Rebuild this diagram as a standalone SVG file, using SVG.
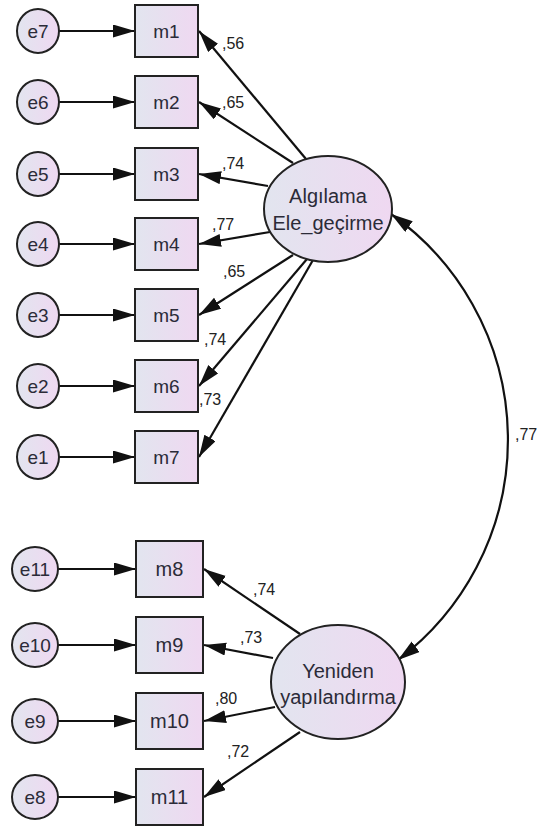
<svg xmlns="http://www.w3.org/2000/svg" width="539" height="827" viewBox="0 0 539 827">
<style>
.nd{fill:url(#g);stroke:#222;stroke-width:2}
.t{font-family:"Liberation Sans",Arial,sans-serif;font-size:19px;fill:#2b2b38;text-anchor:middle}
.tl{font-family:"Liberation Sans",Arial,sans-serif;font-size:20px;fill:#2b2b38;text-anchor:middle}
.lb{font-family:"Liberation Sans",Arial,sans-serif;font-size:16px;fill:#222}
.c{stroke:#111;stroke-width:2.2;fill:none;marker-end:url(#ah)}
</style>
<defs>
<linearGradient id="g" x1="0" y1="0" x2="1" y2="0">
<stop offset="0" stop-color="#e2e5ef"/>
<stop offset="1" stop-color="#efd8f1"/>
</linearGradient>
<marker id="ah" markerUnits="userSpaceOnUse" markerWidth="24" markerHeight="14" refX="22" refY="6.5" orient="auto-start-reverse">
<path d="M0,0 L22,6.5 L0,13 z" fill="#111"/>
</marker>
</defs>
<rect width="539" height="827" fill="#fff"/>
<g id="connectors">
<line class="c" x1="59" y1="31" x2="135" y2="31"/>
<line class="c" x1="59" y1="102" x2="135" y2="102"/>
<line class="c" x1="59" y1="174" x2="135" y2="174"/>
<line class="c" x1="59" y1="244" x2="135" y2="244"/>
<line class="c" x1="59" y1="315" x2="135" y2="315"/>
<line class="c" x1="59" y1="386" x2="135" y2="386"/>
<line class="c" x1="59" y1="457" x2="135" y2="457"/>
<line class="c" x1="58" y1="569" x2="136" y2="569"/>
<line class="c" x1="58" y1="645" x2="136" y2="645"/>
<line class="c" x1="58" y1="721" x2="136" y2="721"/>
<line class="c" x1="58" y1="797" x2="136" y2="797"/>
<line class="c" x1="306" y1="159" x2="199" y2="31"/>
<line class="c" x1="293" y1="163" x2="199" y2="102"/>
<line class="c" x1="268" y1="186" x2="199" y2="174"/>
<line class="c" x1="270" y1="232" x2="199" y2="244"/>
<line class="c" x1="293" y1="255" x2="199" y2="315"/>
<line class="c" x1="307" y1="259" x2="199" y2="386"/>
<line class="c" x1="313" y1="260" x2="199" y2="457"/>
<line class="c" x1="300" y1="634" x2="204" y2="569"/>
<line class="c" x1="273" y1="658" x2="204" y2="645"/>
<line class="c" x1="275" y1="707" x2="204" y2="721"/>
<line class="c" x1="300" y1="732" x2="204" y2="797"/>
<path class="c" d="M391,214 A276,276 0 0 1 398,660" style="marker-start:url(#ah)"/>
<text class="lb" x="222" y="49">,56</text>
<text class="lb" x="222" y="108">,65</text>
<text class="lb" x="222" y="169">,74</text>
<text class="lb" x="212" y="230">,77</text>
<text class="lb" x="223" y="277">,65</text>
<text class="lb" x="204" y="345">,74</text>
<text class="lb" x="199" y="405">,73</text>
<text class="lb" x="253" y="595">,74</text>
<text class="lb" x="240" y="643">,73</text>
<text class="lb" x="215" y="704">,80</text>
<text class="lb" x="227" y="757">,72</text>
<text class="lb" x="515" y="440">,77</text>
</g>
<g id="e7"><ellipse class="nd" cx="38" cy="31" rx="21" ry="22"/><text class="t" x="38" y="38">e7</text></g>
<g id="e6"><ellipse class="nd" cx="38" cy="102" rx="21" ry="22"/><text class="t" x="38" y="109">e6</text></g>
<g id="e5"><ellipse class="nd" cx="38" cy="174" rx="21" ry="22"/><text class="t" x="38" y="181">e5</text></g>
<g id="e4"><ellipse class="nd" cx="38" cy="244" rx="21" ry="22"/><text class="t" x="38" y="251">e4</text></g>
<g id="e3"><ellipse class="nd" cx="38" cy="315" rx="21" ry="22"/><text class="t" x="38" y="322">e3</text></g>
<g id="e2"><ellipse class="nd" cx="38" cy="386" rx="21" ry="22"/><text class="t" x="38" y="393">e2</text></g>
<g id="e1"><ellipse class="nd" cx="38" cy="457" rx="21" ry="22"/><text class="t" x="38" y="464">e1</text></g>
<g id="e11"><ellipse class="nd" cx="35" cy="569" rx="23" ry="22"/><text class="t" x="35" y="576">e11</text></g>
<g id="e10"><ellipse class="nd" cx="35" cy="645" rx="23" ry="22"/><text class="t" x="35" y="652">e10</text></g>
<g id="e9"><ellipse class="nd" cx="35" cy="721" rx="23" ry="22"/><text class="t" x="35" y="728">e9</text></g>
<g id="e8"><ellipse class="nd" cx="35" cy="797" rx="23" ry="22"/><text class="t" x="35" y="804">e8</text></g>
<g id="m1"><rect class="nd" x="135" y="5" width="63" height="52"/><text class="t" x="166.5" y="38">m1</text></g>
<g id="m2"><rect class="nd" x="135" y="76" width="63" height="52"/><text class="t" x="166.5" y="109">m2</text></g>
<g id="m3"><rect class="nd" x="135" y="148" width="63" height="52"/><text class="t" x="166.5" y="181">m3</text></g>
<g id="m4"><rect class="nd" x="135" y="218" width="63" height="52"/><text class="t" x="166.5" y="251">m4</text></g>
<g id="m5"><rect class="nd" x="135" y="289" width="63" height="52"/><text class="t" x="166.5" y="322">m5</text></g>
<g id="m6"><rect class="nd" x="135" y="360" width="63" height="52"/><text class="t" x="166.5" y="393">m6</text></g>
<g id="m7"><rect class="nd" x="135" y="431" width="63" height="52"/><text class="t" x="166.5" y="464">m7</text></g>
<g id="m8"><rect class="nd" x="136" y="541" width="67" height="56"/><text class="tl" x="169.5" y="576">m8</text></g>
<g id="m9"><rect class="nd" x="136" y="617" width="67" height="56"/><text class="tl" x="169.5" y="652">m9</text></g>
<g id="m10"><rect class="nd" x="136" y="693" width="67" height="56"/><text class="tl" x="169.5" y="728">m10</text></g>
<g id="m11"><rect class="nd" x="136" y="769" width="67" height="56"/><text class="tl" x="169.5" y="804">m11</text></g>
<g id="algilama"><ellipse class="nd" cx="328" cy="209" rx="64" ry="53"/><text class="tl" x="328" y="203">Algılama</text><text class="tl" x="328" y="230">Ele_geçirme</text></g>
<g id="yeniden"><ellipse class="nd" cx="338" cy="682" rx="67" ry="57"/><text class="tl" x="338" y="678">Yeniden</text><text class="tl" x="338" y="704">yapılandırma</text></g>
</svg>
